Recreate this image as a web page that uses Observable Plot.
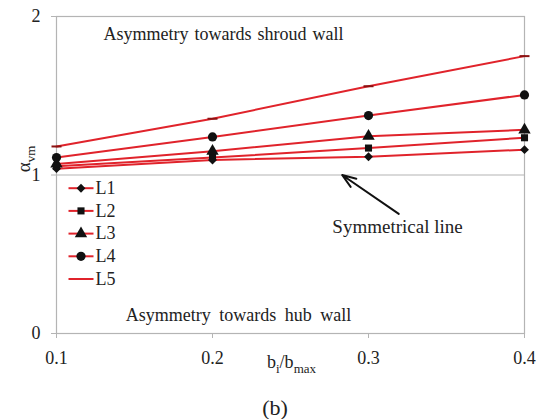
<!DOCTYPE html>
<html>
<head>
<meta charset="utf-8">
<script src="https://cdn.jsdelivr.net/npm/d3@7"></script>
<script src="https://cdn.jsdelivr.net/npm/@observablehq/plot@0.6"></script>
<style>
  body { margin: 0; background: #fff; }
  #wrap { position: relative; width: 540px; height: 419px; background: #fff; }
  #wrap svg, #wrap svg text { font-family: "Liberation Serif", "Times New Roman", "DejaVu Serif", serif !important; }
  #caption { position: absolute; left: 0; top: 395px; width: 550px; text-align: center;
             font-family: "Liberation Serif", "Times New Roman", "DejaVu Serif", serif; font-size: 22px;
             color: #222; line-height: 26px; }
</style>
</head>
<body>
<div id="wrap"><div id="caption">(b)</div></div>
<script>
// Width ratio b_i/b_max on the x axis
const xValues = [0.1, 0.2, 0.3, 0.4];
// Velocity-asymmetry factor for each line
const L1 = [1.04, 1.095, 1.115, 1.16];
const L2 = [1.055, 1.11, 1.17, 1.235];
const L3 = [1.07, 1.15, 1.245, 1.285];
const L4 = [1.11, 1.24, 1.375, 1.505];
const L5 = [1.18, 1.355, 1.56, 1.75];
const seriesNames = ["L1", "L2", "L3", "L4", "L5"];
const seriesValues = [L1, L2, L3, L4, L5];
const yTicks = [0, 1, 2];
const symmetricLine = 1;

const rows = seriesNames.flatMap((name, i) =>
  xValues.map((x, j) => ({series: name, x, y: seriesValues[i][j]})));

const serif = "'Liberation Serif', 'Times New Roman', 'DejaVu Serif', serif";
const red = "#e0232b";
const ink = "#111";
const gray = "#b4b4b4";

// short horizontal dash marker
const dash = {draw(ctx, size) { const w = Math.sqrt(size / Math.PI); ctx.moveTo(-w, 0); ctx.lineTo(w, 0); }};
// line sample used by the legend
const legendLine = {draw(ctx) { ctx.moveTo(-12.5, 0); ctx.lineTo(12.5, 0); }};

const symbols = ["diamond2", "square", "triangle", "circle", dash];
const radii = [4, 4, 4.6, 4.6, 5];

const markerMarks = seriesNames.map((name, i) => {
  const filled = typeof symbols[i] === "string";
  return Plot.dot(rows.filter(d => d.series === name), {
    x: "x", y: "y", symbol: symbols[i], r: radii[i],
    fill: filled ? ink : "none", stroke: filled ? "none" : "#8a1212", strokeWidth: 2
  });
});

const legendMarks = seriesNames.flatMap((name, i) => {
  const dy = 171.7 + 22.7 * i;
  const filled = typeof symbols[i] === "string";
  const marks = [
    Plot.dot([name], {frameAnchor: "top-left", dx: 24.5, dy, symbol: legendLine, fill: "none", stroke: red, strokeWidth: 2})
  ];
  if (filled) marks.push(Plot.dot([name], {frameAnchor: "top-left", dx: 24.5, dy, symbol: symbols[i], r: radii[i], fill: ink, stroke: "none"}));
  marks.push(Plot.text([name], {frameAnchor: "top-left", dx: 39, dy, text: d => d, textAnchor: "start", lineAnchor: "middle", fontSize: 18, fontFamily: serif, fill: "#222"}));
  return marks;
});

const label = (s, opts) => Plot.text([s], {text: d => d, textAnchor: "middle", lineAnchor: "middle", fontSize: 18, fontFamily: serif, fill: "#222", ...opts});

const chart = Plot.plot({
  width: 540,
  height: 385,
  marginLeft: 56,
  marginRight: 16,
  marginTop: 16,
  marginBottom: 52,
  style: {fontFamily: serif, fontSize: "17px", background: "#fff", color: "#222"},
  x: {domain: [0.1, 0.4]},
  y: {domain: [0, 2]},
  marks: [
    Plot.ruleY([symmetricLine], {stroke: gray, strokeWidth: 1.2}),
    Plot.frame({stroke: gray, strokeWidth: 1.2}),
    Plot.axisX({ticks: xValues, tickFormat: d => d.toFixed(1), tickSize: 5, tickPadding: 13, fontSize: 18, fontFamily: serif, stroke: gray, fill: "#222", label: null}),
    Plot.axisY({ticks: yTicks, tickFormat: d => String(d), tickSize: 5, tickPadding: 11, fontSize: 18, fontFamily: serif, stroke: gray, fill: "#222", label: null}),
    Plot.line(rows, {x: "x", y: "y", z: "series", stroke: red, strokeWidth: 2}),
    ...markerMarks,
    ...legendMarks,
    label("Asymmetry towards shroud wall", {frameAnchor: "top-left", dx: 167, dy: 17.6}),
    label("Asymmetry towards hub wall", {frameAnchor: "bottom-left", dx: 182, dy: -18.4}),
    label("Symmetrical line", {frameAnchor: "top-left", dx: 341, dy: 210.3, fontSize: 19}),
    Plot.arrow([{x1: 0.3194, y1: 0.755, x2: 0.2831, y2: symmetricLine}], {x1: "x1", y1: "y1", x2: "x2", y2: "y2", stroke: ink, strokeWidth: 2, headLength: 11, headAngle: 40}),
    label("α_{vm}", {frameAnchor: "left", dx: -33, dy: -16, rotate: -90, fontSize: 19}),
    label("b_{i}/b_{max}", {frameAnchor: "bottom", dx: 1, dy: 28.6})
  ]
});

// word spacing for the annotations, subscripts for "_{...}" runs
chart.querySelectorAll("text").forEach(t => {
  const s = t.textContent;
  if (s === "Asymmetry towards shroud wall") t.setAttribute("word-spacing", "1.5");
  if (s === "Asymmetry towards hub wall") t.setAttribute("word-spacing", "4");
  if (!s.includes("_{")) return;
  const parts = s.split(/_\{([^}]*)\}/);
  t.textContent = "";
  parts.forEach((p, k) => {
    if (!p) return;
    const ts = document.createElementNS("http://www.w3.org/2000/svg", "tspan");
    ts.textContent = p;
    if (k % 2 === 1) {
      ts.setAttribute("font-size", "13");
      ts.setAttribute("dy", "5");
    } else if (k > 0) {
      ts.setAttribute("dy", "-5");
    }
    t.appendChild(ts);
  });
});

document.getElementById("wrap").prepend(chart);
</script>
</body>
</html>
